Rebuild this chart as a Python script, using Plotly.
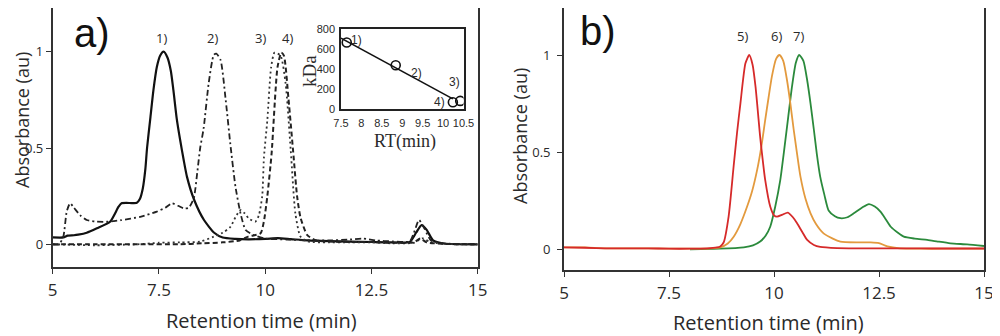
import numpy as np
import plotly.graph_objects as go

# ---------------- Panel a data ----------------
x1 = [5.0, 5.25, 5.35, 5.5, 5.6, 5.8, 6.04, 6.35, 6.55, 6.62, 6.98, 7.05, 7.12, 7.18, 7.22, 7.3, 7.37,
      7.45, 7.53, 7.61, 7.7, 7.78, 7.84, 7.92, 8.0, 8.08, 8.16, 8.33, 8.56, 8.8, 9.0, 9.3, 9.6, 10.0,
      10.3, 10.6, 11.0, 11.5, 12.0, 12.5, 13.0, 13.4, 13.55, 13.68, 13.8, 13.95, 14.2, 15.0]
y1 = [0.036, 0.036, 0.045, 0.047, 0.05, 0.06, 0.083, 0.117, 0.195, 0.213, 0.216, 0.235, 0.29, 0.39,
      0.5, 0.66, 0.80, 0.92, 0.98, 1.0, 0.97, 0.9, 0.80, 0.65, 0.54, 0.44, 0.35, 0.23, 0.126, 0.06,
      0.035, 0.028, 0.026, 0.028, 0.032, 0.027, 0.02, 0.016, 0.014, 0.012, 0.01, 0.012, 0.06, 0.10,
      0.075, 0.02, 0.004, 0.0]

x2 = [5.0, 5.15, 5.25, 5.33, 5.41, 5.5, 5.65, 5.8, 6.0, 6.27, 6.6, 7.06, 7.45, 7.65, 7.81, 7.95, 8.08,
      8.2, 8.32, 8.4, 8.47, 8.55, 8.67, 8.79, 8.85, 8.95, 9.07, 9.18, 9.3, 9.42, 9.54, 9.73, 10.0,
      10.5, 11.0, 11.5, 12.0, 12.3, 12.6, 13.0, 13.4, 13.5, 13.62, 13.75, 13.9, 14.2, 15.0]
y2 = [0.0, 0.0, 0.04, 0.17, 0.213, 0.19, 0.15, 0.126, 0.118, 0.117, 0.125, 0.143, 0.17, 0.19, 0.213,
      0.2, 0.187, 0.19, 0.24, 0.37, 0.5, 0.6, 0.836, 0.983, 0.99, 0.957, 0.75, 0.52, 0.30, 0.16,
      0.074, 0.048, 0.03, 0.025, 0.02, 0.02, 0.025, 0.03, 0.02, 0.015, 0.015, 0.06, 0.126, 0.08, 0.02,
      0.005, 0.0]

x3 = [5.0, 6.0, 7.0, 7.5, 8.0, 8.47, 8.79, 9.0, 9.18, 9.3, 9.42, 9.52, 9.61, 9.77, 9.85, 9.93, 9.97,
      10.05, 10.14, 10.22, 10.36, 10.48, 10.6, 10.71, 10.83, 11.0, 11.5, 12.0, 12.5, 13.0, 13.5, 13.7,
      13.9, 14.5, 15.0]
y3 = [0.0, -0.005, 0.0, 0.008, 0.01, 0.014, 0.04, 0.06, 0.09, 0.14, 0.178, 0.16, 0.135, 0.118, 0.15,
      0.25, 0.45, 0.645, 0.92, 0.995, 0.98, 0.836, 0.49, 0.16, 0.04, 0.015, 0.01, 0.01, 0.01, 0.005,
      0.008, 0.031, 0.01, 0.0, 0.0]

x4 = [5.0, 6.0, 7.0, 8.0, 8.5, 9.0, 9.4, 9.6, 9.89, 9.97, 10.05, 10.15, 10.29, 10.38, 10.44, 10.55,
      10.67, 10.75, 10.83, 10.99, 11.2, 11.5, 12.0, 12.5, 13.0, 13.5, 13.65, 13.8, 14.5, 15.0]
y4 = [0.0, 0.0, 0.0, 0.0, 0.005, 0.01, 0.02, 0.04, 0.057, 0.12, 0.25, 0.47, 0.92, 0.995, 0.98, 0.75,
      0.45, 0.25, 0.14, 0.048, 0.02, 0.015, 0.012, 0.012, 0.008, 0.01, 0.03, 0.01, 0.0, 0.0]

peak_labels_a = ["1)", "2)", "3)", "4)"]
peak_label_x_a = [7.57, 8.75, 9.89, 10.53]

# ---------------- Inset data ----------------
inset_rt = [7.64, 8.84, 10.42, 10.24]
inset_kda = [665, 438, 81, 68]
inset_labels = ["1)", "2)", "3)", "4)"]
inset_label_x = [7.88, 9.36, 10.29, 9.9]
inset_label_y = [690, 357, 273, 73]
inset_xticks = [7.5, 8, 8.5, 9, 9.5, 10, 10.5]
inset_yticks = [0, 200, 400, 600, 800]

# ---------------- Panel b data ----------------
x5 = [5.0, 5.5, 6.0, 7.0, 7.5, 8.0, 8.4, 8.64, 8.72, 8.80, 8.92, 9.04, 9.12, 9.20, 9.32, 9.41, 9.49,
      9.56, 9.67, 9.71, 9.79, 9.91, 10.0, 10.07, 10.2, 10.33, 10.45, 10.55, 10.67, 10.79, 10.95, 11.1,
      11.5, 12.0, 13.0, 14.0, 15.0]
y5 = [0.01, 0.008, 0.005, 0.005, 0.003, 0.003, 0.005, 0.01, 0.015, 0.035, 0.17, 0.43, 0.6, 0.75,
      0.957, 1.0, 0.95, 0.837, 0.58, 0.5, 0.357, 0.22, 0.175, 0.168, 0.178, 0.189, 0.165, 0.134, 0.09,
      0.048, 0.022, 0.012, 0.006, 0.005, 0.005, 0.004, 0.004]

x6 = [5.0, 5.5, 6.0, 7.0, 8.0, 8.5, 8.72, 8.9, 9.04, 9.2, 9.36, 9.48, 9.6, 9.7, 9.79, 9.87, 9.95,
      10.05, 10.13, 10.22, 10.31, 10.39, 10.47, 10.55, 10.63, 10.75, 10.87, 11.0, 11.18, 11.4, 11.58,
      12.0, 12.3, 12.5, 12.7, 13.0, 13.5, 14.0, 15.0]
y6 = [0.01, 0.01, 0.005, 0.005, 0.003, 0.005, 0.01, 0.03, 0.065, 0.13, 0.22, 0.30, 0.41, 0.53, 0.665,
      0.78, 0.89, 0.98, 1.0, 0.97, 0.87, 0.75, 0.614, 0.49, 0.374, 0.26, 0.185, 0.13, 0.082, 0.055,
      0.04, 0.036, 0.036, 0.032, 0.015, 0.005, 0.003, 0.003, 0.003]

x7 = [8.0, 8.7, 9.28, 9.5, 9.67, 9.8, 9.91, 10.03, 10.15, 10.23, 10.31, 10.43, 10.52, 10.6, 10.7,
      10.79, 10.87, 10.95, 11.02, 11.1, 11.2, 11.3, 11.45, 11.58, 11.75, 11.9, 12.1, 12.26, 12.4,
      12.54, 12.66, 12.78, 12.95, 13.09, 13.35, 13.65, 13.9, 14.2, 14.6, 15.0]
y7 = [0.0, 0.003, 0.01, 0.02, 0.04, 0.07, 0.116, 0.22, 0.357, 0.49, 0.63, 0.84, 0.96, 1.0, 0.97,
      0.87, 0.75, 0.614, 0.49, 0.374, 0.28, 0.2, 0.17, 0.16, 0.165, 0.185, 0.215, 0.233, 0.22, 0.193,
      0.155, 0.116, 0.085, 0.065, 0.055, 0.048, 0.04, 0.031, 0.025, 0.017]

peak_labels_b = ["5)", "6)", "7)"]
peak_label_x_b = [9.25, 10.07, 10.59]

x_ticks = [5, 7.5, 10, 12.5, 15]
x_tick_text = ["5", "7.5", "10", "12.5", "15"]
y_ticks = [0, 0.5, 1]
y_tick_text = ["0", "0.5", "1"]

RED = "#d62a2a"
ORANGE = "#e39a3e"
GREEN = "#2b8a3c"
INK = "#2a2a2a"

# The page body has an 8px default margin; the figure is sized to fill the
# remaining window and all layout positions below are given in window pixels.
OFF = 8
W, H = 1000 - OFF, 336 - OFF


def px(xp):
    return (xp - OFF) / W


def py(yp):
    return min(1.0, 1 - (yp - OFF) / H)


# frame top can't go above the figure edge; keep data-to-pixel mapping intact
A_Y0, A_Y1, A_TOP, A_BOT = 244.3, 51.7, 8.0, 266.7
B_Y0, B_Y1, B_TOP, B_BOT = 249.3, 55.0, 8.0, 270.0
a_range = [-(A_BOT - A_Y0) / (A_Y0 - A_Y1), (A_Y0 - A_TOP) / (A_Y0 - A_Y1)]
b_range = [-(B_BOT - B_Y0) / (B_Y0 - B_Y1), (B_Y0 - B_TOP) / (B_Y0 - B_Y1)]

fig = go.Figure()

line_a = dict(shape="spline", smoothing=0.6)
fig.add_trace(go.Scatter(x=x1, y=y1, mode="lines", xaxis="x", yaxis="y",
                         line=dict(color="#111", width=2.2, **line_a)))
fig.add_trace(go.Scatter(x=x2, y=y2, mode="lines", xaxis="x", yaxis="y",
                         line=dict(color="#222", width=1.8, dash="6px,3px,2px,3px", **line_a)))
fig.add_trace(go.Scatter(x=x3, y=y3, mode="lines", xaxis="x", yaxis="y",
                         line=dict(color="#333", width=1.8, dash="2px,3px", **line_a)))
fig.add_trace(go.Scatter(x=x4, y=y4, mode="lines", xaxis="x", yaxis="y",
                         line=dict(color="#222", width=2.0, dash="5px,3px", **line_a)))

# inset
coef = np.polyfit(inset_rt, inset_kda, 1)
fit_x = np.array([inset_xticks[0], inset_rt[3]])
fig.add_trace(go.Scatter(x=fit_x, y=np.polyval(coef, fit_x), mode="lines", xaxis="x3", yaxis="y3",
                         line=dict(color="#111", width=1.6)))
fig.add_trace(go.Scatter(x=inset_rt, y=inset_kda, mode="markers", xaxis="x3", yaxis="y3",
                         marker=dict(symbol="circle-open", size=9, color="#111", line=dict(width=1.6))))

line_b = dict(shape="spline", smoothing=0.6, width=1.8)
fig.add_trace(go.Scatter(x=x7, y=y7, mode="lines", xaxis="x2", yaxis="y2", line=dict(color=GREEN, **line_b)))
fig.add_trace(go.Scatter(x=x6, y=y6, mode="lines", xaxis="x2", yaxis="y2", line=dict(color=ORANGE, **line_b)))
fig.add_trace(go.Scatter(x=x5, y=y5, mode="lines", xaxis="x2", yaxis="y2", line=dict(color=RED, **line_b)))

frame = dict(showline=True, linecolor="#333", linewidth=1.7, mirror=True, showgrid=False,
             zeroline=False, ticks="outside", ticklen=5, tickwidth=1.4, tickcolor="#333",
             automargin=False)

xa = dict(frame, range=[5, 15], tickvals=x_ticks, ticktext=x_tick_text, ticklabelstandoff=2,
          tickfont=dict(family="Open Sans", size=17, color=INK))
ya = dict(frame, tickvals=y_ticks, ticktext=y_tick_text,
          tickfont=dict(family="Open Sans", size=13, color=INK))

annotations = []


def note(text, x, y, size, family="Open Sans", angle=0, xref="paper", yref="paper", color=INK):
    annotations.append(dict(text=text, x=x, y=y, xref=xref, yref=yref, showarrow=False,
                            xanchor="center", yanchor="middle", textangle=angle,
                            font=dict(family=family, size=size, color=color)))


# titles (window pixel positions)
note("Retention time (min)", px(261), py(320), 20)
note("Retention time (min)", px(768), py(322), 20)
note("Absorbance (au)", px(22), py(120), 18, angle=-90)
note("Absorbance (au)", px(520), py(136), 18, angle=-90)
note("a)", px(92), py(33), 40, family="Liberation Sans", color="#111")
note("b)", px(598), py(31), 40, family="Liberation Sans", color="#111")
for t, xv in zip(peak_labels_a, peak_label_x_a):
    note(t, xv, 1.07, 13, xref="x", yref="y")
for t, xv in zip(peak_labels_b, peak_label_x_b):
    note(t, xv, 1.10, 13, xref="x2", yref="y2")
for t, xv, yv in zip(inset_labels, inset_label_x, inset_label_y):
    note(t, xv, yv, 12, family="Liberation Sans", xref="x3", yref="y3")
note("kDa", px(309), py(71), 19, family="Liberation Serif", angle=-90)
note("RT(min)", px(405), py(141), 18, family="Liberation Serif")

inset_frame = dict(showline=True, linecolor="#222", linewidth=1.6, mirror=True, showgrid=False,
                   zeroline=False, ticks="", automargin=False,
                   tickfont=dict(family="Liberation Sans", size=11, color=INK))

fig.update_layout(
    template="none",
    width=W, height=H,
    margin=dict(l=0, r=0, t=0, b=0, autoexpand=False),
    paper_bgcolor="white", plot_bgcolor="white",
    showlegend=False,
    xaxis=dict(xa, domain=[px(52.7), px(477.7)], anchor="y"),
    yaxis=dict(ya, domain=[py(A_BOT), py(A_TOP)], range=a_range, anchor="x"),
    xaxis2=dict(xa, domain=[px(564), px(984)], anchor="y2"),
    yaxis2=dict(ya, domain=[py(B_BOT), py(B_TOP)], range=b_range, anchor="x2", ticklabelstandoff=4),
    xaxis3=dict(inset_frame, domain=[px(341), px(463.5)], range=[7.5, 10.5], anchor="y3",
                tickvals=inset_xticks, ticktext=[f"{v:g}" for v in inset_xticks], ticklabelstandoff=3),
    yaxis3=dict(inset_frame, domain=[py(109), py(29)], range=[0, 800], anchor="x3",
                tickvals=inset_yticks, ticktext=[str(v) for v in inset_yticks], ticklabelstandoff=2),
    annotations=annotations,
)

fig.write_html("out.html")
